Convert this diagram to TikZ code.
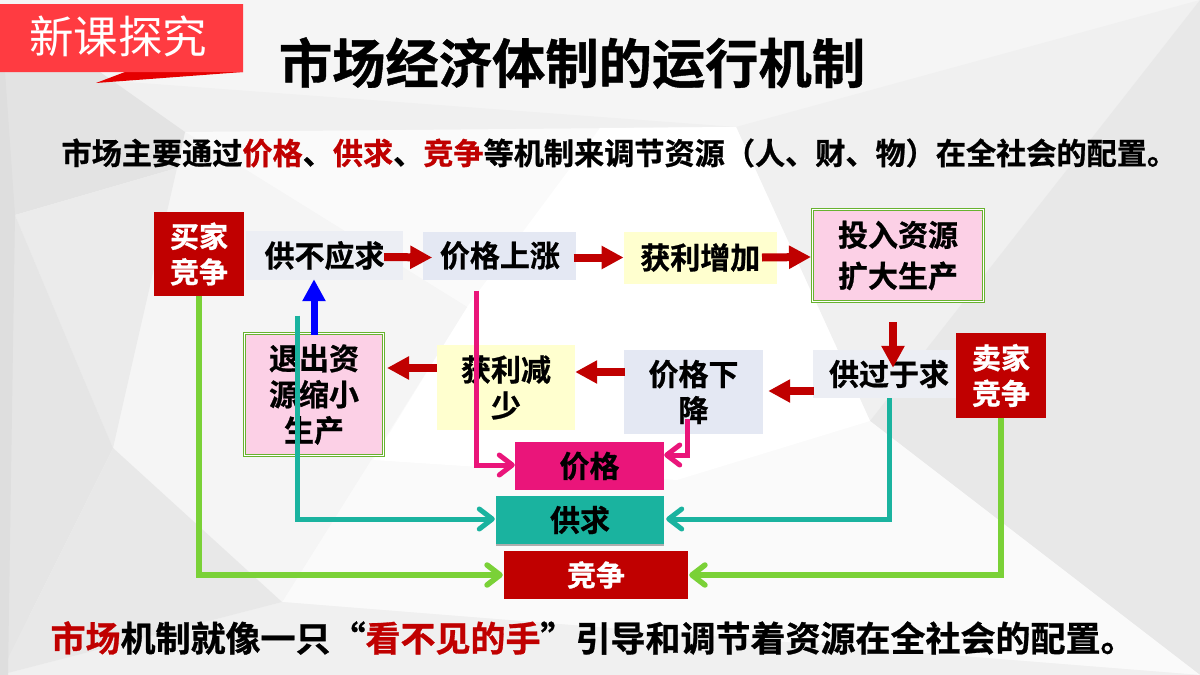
\documentclass[tikz,border=0pt]{standalone}
\usepackage{fontspec}
\usepackage{xcolor}
\usetikzlibrary{arrows.meta, positioning, shadows}
\setmainfont{Noto Sans CJK SC}[BoldFont={Noto Sans CJK SC Bold},BoldFeatures={FakeBold=0.8}]
\definecolor{darkred}{HTML}{C00000}
\definecolor{ribbon}{HTML}{FF3B41}
\definecolor{pinkline}{HTML}{EA157A}
\definecolor{tealline}{HTML}{1AB39F}
\definecolor{greenline}{HTML}{7AD137}
\definecolor{greybox}{HTML}{ECEEF4}
\definecolor{bluebox}{HTML}{E4E8F3}
\definecolor{yellowbox}{HTML}{FFFFCF}
\definecolor{pinkbox}{HTML}{FCD0E6}
\tikzset{
    flowbox/.style={rectangle, inner sep=0pt, text centered, align=center, font=\fontsize{30}{36}\selectfont\bfseries},
    whitebox/.style={flowbox, fill=darkred, text=white, font=\fontsize{29}{35.5}\selectfont\bfseries},
    doublebox/.style={flowbox, fill=pinkbox, draw=greenline!85!black, line width=1pt, double=white, double distance=1pt},
    redarrow/.style={line width=8pt, draw=darkred, -{Triangle[length=22pt,width=22pt]}},
    bluearrow/.style={line width=7pt, draw=blue, -{Triangle[length=22pt,width=22pt]}},
    barline/.style={line width=#1, -{Straight Barb[length=13pt,width=20pt,round]}, line join=miter,
      preaction={draw=black!28, transform canvas={shift={(1pt,-1.5pt)}}}},
    pinkarrow/.style={barline=5pt, draw=pinkline},
    tealarrow/.style={barline=5pt, draw=tealline},
    greenarrow/.style={barline=5.5pt, draw=greenline},
}
\begin{document}
\begin{tikzpicture}[x=1pt,y=-1pt]
  \useasboundingbox (0,0) rectangle (1200,675);
  % background
  \fill[black!4] (0,0) rectangle (1200,675);
  \fill[black!6] (736,127) -- (1200,0) -- (870,421) -- cycle;
  \fill[black!6] (100,80) -- (736,127) -- (185,132) -- cycle;
  \fill[black!9] (1200,0) -- (1200,675) -- (870,421) -- cycle;
  \fill[black!2] (185,132) -- (736,127) -- (870,421) -- (1200,675) -- (282,602) -- (467,307) -- cycle;
  \fill[white] (467,307) -- (600,128) -- (736,127) -- (870,421) -- (677,480) -- (373,460) -- cycle;
  \fill[black!4] (185,132) -- (467,307) -- (282,602) -- (113,448) -- (133,360) -- (177,168) -- cycle;
  \fill[black!6] (0,675) -- (282,602) -- (1200,675) -- cycle;
  \fill[black!11] (0,72) -- (100,72) -- (185,132) -- (177,168) -- (15,215) -- (0,200) -- cycle;
  \fill[black!8] (15,215) -- (177,168) -- (133,360) -- (113,448) -- (82,375) -- cycle;
  \fill[black!10] (0,200) -- (15,215) -- (82,375) -- (113,448) -- (0,675) -- cycle;
  \fill[black!9] (113,448) -- (282,602) -- (0,675) -- cycle;
  \fill[black!13] (0,72) -- (5,72) -- (15,215) -- (8,675) -- (0,675) -- cycle;
  % ribbon
  \fill[red!90!black] (96,83) -- (125,72) -- (243,72) -- cycle;
  \fill[ribbon] (0,4) -- (243,4) -- (243,72) -- (125,72) -- (0,72) -- cycle;
  \node[text=white, font=\fontsize{44.5}{50}\selectfont] (ribbontext) at (118.5,36) {新课探究};
  % titles
  \node[font=\fontsize{53.3}{60}\selectfont\bfseries] (title) at (572,63) {市场经济体制的运行机制};
  \node[anchor=west, font=\fontsize{30.15}{36}\selectfont\bfseries] (intro) at (58,153)
    {市场主要通过\textcolor{darkred}{价格}、\textcolor{darkred}{供求}、\textcolor{darkred}{竞争}等机制来调节资源（人、财、物）在全社会的配置。};
  \node[anchor=west, font=\fontsize{35}{40}\selectfont\bfseries] (summary) at (47,638)
    {\textcolor{darkred}{市场}机制就像一只“\textcolor{darkred}{看不见的手}”引导和调节着资源在全社会的配置。};
  % upper row
  \node[whitebox, minimum width=90pt, minimum height=84pt] (buyer) at (199,254) {买家\\竞争};
  \node[flowbox, fill=greybox, minimum width=157pt, minimum height=49pt] (short) at (324.5,255.5) {供不应求};
  \node[flowbox, fill=bluebox, minimum width=153pt, minimum height=48pt] (rise) [right=20pt of short] {价格上涨};
  \node[flowbox, fill=yellowbox, minimum width=153pt, minimum height=52pt] (gain) [right=47pt of rise, yshift=-2pt] {获利增加};
  \node[doublebox, minimum width=171pt, minimum height=92pt, font=\fontsize{30}{41}\selectfont\bfseries] (invest) at (898,255.5) {投入资源\\扩大生产};
  % lower row
  \node[flowbox, fill=greybox, minimum width=152pt, minimum height=48pt] (surplus) at (889,374) {供过于求};
  \node[whitebox, minimum width=90pt, minimum height=85pt] (seller) at (1001,375.5) {卖家\\竞争};
  \node[flowbox, fill=bluebox, minimum width=139pt, minimum height=84pt] (fall) at (693.5,392) {价格下\\降};
  \node[flowbox, fill=yellowbox, minimum width=138pt, minimum height=85pt] (less) at (506,387.5) {获利减\\少};
  \node[doublebox, minimum width=139pt, minimum height=122pt] (quit) at (314,394.5) {退出资\\源缩小\\生产};
  % mechanism boxes
  \node[flowbox, fill=pinkline, minimum width=149pt, minimum height=48pt] (price) at (589.5,466) {价格};
  \node[flowbox, fill=tealline, minimum width=168pt, minimum height=48pt,
        drop shadow={shadow xshift=0pt, shadow yshift=-1.5pt, opacity=.3, fill=black}] (supply) at (580,520) {供求};
  \node[whitebox, minimum width=184pt, minimum height=48pt] (compete) at (596,575) {竞争};
  % red arrows
  \draw[redarrow] ([xshift=-19pt,yshift=-1.5pt]short.east) -- ([xshift=9pt,yshift=-2pt]rise.west);
  \draw[redarrow] ([xshift=-3pt,yshift=-2pt]rise.east) -- (gain.west);
  \draw[redarrow] ([xshift=-15pt]gain.east) -- ([xshift=-1pt,yshift=-1.5pt]invest.west);
  \draw[redarrow] ([xshift=-5pt,yshift=-20pt]invest.south) -- ([xshift=4pt,yshift=-18pt]surplus.north);
  \draw[redarrow] ([xshift=1pt,yshift=-17pt]surplus.west) -- ([xshift=5pt,yshift=1pt]fall.east);
  \draw[redarrow] ([xshift=1pt,yshift=20pt]fall.west) -- ([yshift=15.5pt]less.east);
  \draw[redarrow] ([yshift=19.5pt]less.west) -- ([xshift=3pt,yshift=26.5pt]quit.east);
  \draw[bluearrow] ([yshift=-1.5pt]quit.north) -- ([xshift=-10.5pt,yshift=1pt]short.south);
  % connectors to the mechanism boxes
  \draw[pinkarrow] ([xshift=-23.5pt,yshift=-11pt]rise.south) |- ([yshift=1pt]price.west);
  \draw[pinkarrow] ([xshift=-6.5pt,yshift=15pt]fall.south) |- ([yshift=11pt]price.east);
  \draw[tealarrow] ([xshift=-17pt,yshift=17.5pt]quit.north) |- ([xshift=-1pt,yshift=1pt]supply.west);
  \draw[tealarrow] (surplus.south) |- ([xshift=2pt,yshift=1pt]supply.east);
  \draw[greenarrow] (buyer.south) |- ([xshift=-1pt]compete.west);
  \draw[greenarrow] (seller.south) |- ([xshift=1pt]compete.east);
\end{tikzpicture}
\end{document}
